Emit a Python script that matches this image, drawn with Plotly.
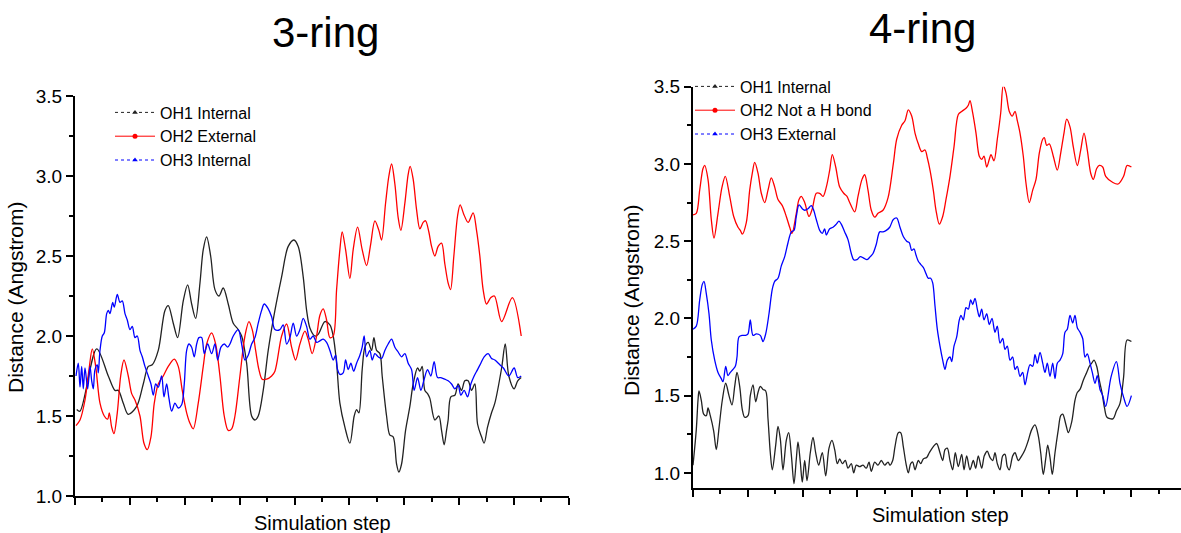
import plotly.graph_objects as go

# ---------------- data (simulation step, distance in Angstrom) ----------------
# 3-ring panel
ring3_oh1 = [(1.7,1.54),(5,1.53),(21.7,1.92),(33.3,1.75),(40,1.66),(43.3,1.66),(48.3,1.58),(53.3,1.51),(61.7,1.56),(68.3,1.70),
 (73.3,1.81),(77.3,1.82),(83.3,1.91),(90,2.16),(93.3,2.19),(98.3,2.08),(102.7,1.99),(108.3,2.22),(112.7,2.32),(116.7,2.20),
 (120.7,2.11),(125,2.33),(128.3,2.54),(131.7,2.62),(135.7,2.50),(140,2.29),(144,2.25),(148.3,2.30),(153.3,2.20),(158.3,2.08),
 (163.3,2.04),(166.7,2.00),(171.7,1.83),(176.7,1.50),(180,1.475),(183.3,1.50),(188.3,1.66),(193.3,1.91),(200,2.16),(206.7,2.37),
 (213.3,2.56),(219,2.60),(223.3,2.56),(228.3,2.37),(231.7,2.16),(235,2.05),(240,2.00),(243.3,2.01),(250,2.09),(255,2.07),
 (258.3,2.00),(261.7,1.83),(265,1.58),(270,1.43),(275,1.33),(279.3,1.50),(281.7,1.54),(284,1.52),(287.3,1.79),(290,1.93),
 (293.3,1.96),(296.7,1.91),(299,1.99),(301.7,1.91),(305,1.89),(307.3,1.75),(311.7,1.50),(315,1.38),(318.3,1.37),(321.7,1.20),
 (324,1.15),(326.7,1.20),(330.7,1.41),(335,1.56),(338.3,1.70),(342.7,1.80),(345,1.78),(347.3,1.81),(350,1.66),(352.7,1.64),
 (355,1.61),(360,1.475),(364,1.50),(366.7,1.41),(369.3,1.32),(371.7,1.41),(373.3,1.475),(376,1.62),(380,1.63),(383.3,1.70),
 (386.7,1.66),(390,1.72),(393.3,1.72),(396.7,1.66),(400,1.70),(402.7,1.45),(406.7,1.37),(409.3,1.33),(412.7,1.43),(416.7,1.52),
 (420,1.58),(426.8,1.80),(430.4,1.95),(434,1.75),(439.3,1.67),(442.9,1.72),(446.4,1.74)]

ring3_oh2 = [(1,1.44),(5,1.475),(10,1.60),(14,1.79),(17.3,1.92),(20.7,1.81),(25,1.58),(29.3,1.50),(32.7,1.48),(34.3,1.52),
 (36.7,1.43),(39,1.39),(42.3,1.52),(45.7,1.75),(49,1.85),(53.3,1.75),(56.7,1.64),(60,1.60),(65,1.50),(69,1.33),
 (72.3,1.29),(76,1.37),(79.3,1.58),(83.3,1.70),(88.3,1.75),(93.3,1.81),(99.3,1.855),(103.3,1.81),(107.3,1.66),(111.7,1.52),
 (115,1.455),(118.3,1.42),(123.3,1.58),(128.3,1.81),(131.7,1.95),(136.7,2.02),(140.7,1.95),(145,1.75),(149.3,1.50),(153.3,1.41),
 (156.7,1.42),(160,1.50),(165,1.75),(170,2.00),(174,2.09),(177.3,2.04),(180.7,1.91),(184,1.79),(187.3,1.73),(191.7,1.73),
 (196.7,1.75),(200,1.78),(206.7,2.00),(211.7,2.075),(216.7,1.93),(220.7,1.85),(225,1.95),(230,2.03),(233.3,1.98),(237.3,1.89),
 (241.7,2.00),(245,2.13),(248.3,2.17),(251.7,2.10),(255,1.99),(258.3,2.00),(261.7,2.29),(265,2.54),(267.3,2.65),(270.7,2.54),
 (275,2.36),(278.3,2.54),(282.7,2.68),(287.3,2.54),(291.7,2.44),(295.7,2.57),(300,2.72),(304,2.66),(306.7,2.60),(310.7,2.83),
 (314,3.00),(316.7,3.075),(320,2.95),(323.3,2.74),(326,2.66),(330,2.83),(333.3,3.01),(335.3,3.06),(338.3,2.98),(341.7,2.79),
 (345,2.67),(348.3,2.71),(350.7,2.72),(354,2.65),(356.7,2.56),(360,2.50),(363.3,2.56),(366.7,2.58),(370,2.45),(373.3,2.33),
 (375.7,2.29),(379,2.50),(382.7,2.75),(385.3,2.82),(389,2.76),(393.3,2.71),(398.3,2.77),(401.7,2.66),(405,2.50),(408.3,2.29),
 (411.7,2.20),(416,2.24),(419.6,2.25),(426.8,2.09),(437.5,2.24),(446.4,2.00)]

ring3_oh3 = [(1,1.75),(3.3,1.83),(5,1.68),(6.7,1.81),(8.3,1.67),(10,1.80),(12.7,1.67),(15,1.81),(16.7,1.72),(18.3,1.67),
 (20,1.79),(22.3,1.82),(23.3,1.77),(25,1.91),(27.3,2.00),(29.3,2.02),(31.7,2.14),(33.3,2.16),(35,2.14),(37.7,2.21),
 (39.3,2.18),(42.3,2.26),(45,2.21),(47.3,2.22),(50,2.14),(52.3,2.10),(55,2.04),(57.3,2.06),(60,1.99),(62.3,2.00),
 (65,1.91),(67.3,1.87),(70,1.81),(73.3,1.75),(76,1.70),(78.3,1.63),(80.7,1.70),(83.3,1.68),(86.7,1.75),(89,1.62),
 (91.7,1.70),(94,1.61),(96.7,1.53),(100,1.58),(103.3,1.55),(106.7,1.57),(109.3,1.70),(111.7,1.91),(114,1.95),(116.7,1.93),
 (119.3,1.87),(121.7,1.95),(124,1.99),(126.7,1.99),(129.3,1.89),(132.7,1.95),(136.7,1.89),(140,1.95),(142.7,1.85),(146,1.93),
 (149.3,1.95),(152.7,1.93),(155,1.95),(158.3,2.00),(163.3,2.04),(166.7,1.95),(170,1.85),(173.3,1.88),(176.7,1.95),(180,1.99),
 (183.3,2.08),(186.7,2.16),(189.3,2.20),(193.3,2.17),(196.7,2.12),(200,2.04),(205,2.04),(208.3,2.07),(211.7,1.95),(215,1.99),
 (218.3,2.08),(221.7,2.00),(225,2.04),(228.3,2.11),(231.7,2.06),(235,1.98),(238.3,2.00),(241.7,1.96),(245,1.97),(248.3,1.98),
 (251.7,1.96),(255,1.91),(258.3,1.85),(260.7,1.88),(262.7,1.79),(265,1.76),(268.3,1.77),(270.7,1.85),(273.3,1.79),(276,1.83),
 (278.7,1.78),(281.7,1.83),(285,1.88),(287.3,1.93),(289.3,2.00),(291.7,1.87),(295,1.91),(297.3,1.85),(300,1.89),(303.3,1.87),
 (306.7,1.86),(310,1.91),(313.3,1.95),(316.7,1.98),(320,1.93),(323.3,1.90),(326.7,1.87),(330,1.89),(333.3,1.83),(336.7,1.79),
 (339.3,1.66),(342.7,1.74),(346,1.66),(349.3,1.73),(352.7,1.79),(356,1.75),(359.3,1.84),(362.7,1.74),(366,1.74),(370,1.73),
 (373.3,1.72),(376.7,1.70),(380,1.67),(383.3,1.69),(386,1.63),(389.3,1.66),(392.7,1.62),(396,1.70),(399.3,1.75),(402.7,1.79),
 (406,1.83),(409.3,1.87),(413.3,1.89),(416.7,1.86),(420,1.85),(425,1.82),(428.6,1.80),(434,1.75),(439.3,1.80),(442.9,1.74),
 (446.4,1.75)]

# 4-ring panel
ring4_oh1 = [(0,1.05),(3.3,1.28),(5,1.47),(6,1.53),(8.3,1.47),(10.7,1.38),(13.3,1.37),(15,1.42),(17.3,1.37),(20.7,1.27),
 (23.3,1.15),(26,1.29),(29.3,1.47),(32.7,1.58),(36,1.50),(39,1.44),(41.7,1.56),(44,1.65),(46.7,1.56),(49.3,1.41),
 (51.7,1.36),(55,1.37),(57.3,1.50),(60,1.57),(62.7,1.46),(65,1.52),(67.3,1.56),(70,1.54),(72.7,1.53),(75,1.35),
 (77.3,1.13),(79.3,1.02),(82.7,1.18),(85,1.30),(87.3,1.22),(90,1.02),(93.3,1.21),(95.7,1.26),(98.3,1.12),(101,0.93),
 (103.3,1.09),(105,1.20),(107.3,1.07),(109.3,0.94),(111.7,1.08),(114,0.95),(117.3,1.13),(120,1.23),(122.7,1.13),(125.7,1.05),
 (129.3,1.13),(132.7,0.98),(136,1.16),(139,1.21),(141.7,1.15),(144.3,1.06),(146.7,1.09),(149.3,1.06),(152.3,1.08),(155,1.03),
 (158.3,1.06),(160.7,1.00),(163.3,1.05),(166.7,1.04),(170,1.05),(173.3,1.03),(176,1.07),(178.3,1.01),(181.7,1.07),(185,1.05),
 (188.3,1.08),(191.7,1.05),(195,1.07),(197,1.05),(199.7,1.08),(202,1.17),(205.3,1.26),(207.7,1.26),(210.3,1.17),(213,1.06),
 (215.3,1.00),(217.7,1.06),(219.7,1.07),(222,1.02),(225.3,1.08),(227.7,1.06),(230.3,1.09),(233.7,1.10),(236.3,1.13),(240.3,1.17),
 (243.7,1.19),(247,1.13),(249.7,1.08),(252,1.15),(254.3,1.16),(257,1.08),(259.7,1.02),(262.3,1.13),(265.3,1.04),(268.7,1.12),
 (271,1.02),(273.7,1.11),(277,1.02),(280.3,1.08),(282.7,1.03),(285.3,1.11),(288.7,1.03),(291.3,1.11),(294.3,1.14),(297,1.10),
 (299.7,1.08),(302,1.13),(304.3,1.06),(307,1.02),(309.7,1.11),(312,1.12),(314.3,1.04),(316.3,1.02),(319.7,1.11),(322,1.13),
 (325.3,1.08),(328.7,1.11),(332,1.15),(335.3,1.21),(338.7,1.28),(342,1.31),(345.3,1.24),(347.7,1.13),(350.3,0.99),(352.7,1.09),
 (354.7,1.18),(357,1.10),(359.3,0.99),(362,1.13),(365.3,1.28),(367.7,1.37),(369.7,1.38),(373,1.31),(375.3,1.26),(378.7,1.33),
 (382,1.47),(384.3,1.52),(387,1.54),(390.3,1.60),(393.7,1.65),(396.3,1.69),(398.7,1.71),(401,1.73),(403.7,1.69),(406.3,1.60),
 (409,1.52),(411.5,1.42),(414,1.36),(419.9,1.35),(423.4,1.40),(427,1.45),(430.6,1.62),(434.1,1.86),(438.4,1.85)]

ring4_oh2 = [(0,2.67),(3.3,2.68),(6.7,2.83),(10,2.97),(11.7,2.99),(15,2.90),(18.3,2.64),(21,2.52),(25,2.68),(29,2.85),
 (32.3,2.92),(36.7,2.79),(40.7,2.66),(45,2.59),(47.3,2.57),(49.3,2.545),(53.3,2.62),(56.7,2.83),(59.3,2.94),(61.7,3.01),
 (65,2.94),(68.3,2.81),(71.7,2.75),(75,2.83),(78.3,2.91),(81.7,2.85),(85,2.77),(89.3,2.73),(93.3,2.66),(96.7,2.59),
 (99,2.55),(103.3,2.68),(106,2.77),(108.3,2.79),(111.7,2.75),(116,2.66),(119.3,2.71),(123.3,2.81),(126.7,2.81),(130,2.79),
 (133.3,2.85),(136.7,2.96),(139.3,3.06),(142.7,2.98),(146.7,2.85),(150.7,2.81),(154,2.79),(156.7,2.75),(161.7,2.69),(165,2.79),
 (169,2.90),(171.7,2.93),(175,2.83),(178.3,2.70),(181.7,2.655),(185,2.68),(190,2.70),(195,2.78),(200.3,3.00),(203.7,3.16),
 (208.7,3.25),(212,3.28),(215.3,3.35),(218.7,3.31),(222,3.20),(225.3,3.13),(228.7,3.08),(232,3.09),(234.3,3.04),(237,2.96),
 (240.3,2.83),(243,2.70),(246.3,2.61),(249.7,2.66),(253,2.77),(257,2.92),(261,3.11),(265.3,3.32),(268.7,3.34),(273,3.36),
 (275.3,3.38),(277,3.41),(279.7,3.33),(283,3.20),(286.3,3.05),(288.7,3.03),(291,3.05),(293.7,2.98),(296.3,3.03),(298,3.06),
 (301,3.02),(304.3,3.16),(307.7,3.33),(310.3,3.51),(313,3.46),(316.3,3.34),(319.3,3.31),(322,3.34),(324.3,3.28),(327,3.20),
 (330.3,3.05),(333,2.875),(336.3,2.75),(339.7,2.83),(343,2.90),(346.3,3.07),(349.7,3.16),(351.3,3.17),(353.7,3.12),(356.3,3.13),
 (360.3,3.05),(364.3,2.96),(367.7,3.07),(371,3.20),(373.7,3.29),(377,3.24),(380.3,3.11),(384.3,2.99),(387.7,3.09),(391,3.20),
 (394.3,3.09),(397.7,2.94),(400.3,2.90),(403.7,2.97),(406.3,2.99),(409.7,2.98),(412.7,2.92),(419.9,2.88),(425.2,2.87),(430.6,2.92),
 (434.1,2.99),(438.4,2.98)]

ring4_oh3 = [(0,1.93),(3.3,1.95),(6.7,2.12),(9.3,2.22),(11,2.24),(13.3,2.16),(16,2.03),(18.3,1.86),(21.7,1.73),(25,1.65),
 (28.3,1.61),(30,1.59),(32.7,1.69),(35,1.63),(37.3,1.65),(40,1.67),(42.3,1.69),(44,1.75),(46,1.88),(49.3,1.89),
 (52.7,1.89),(55,1.90),(57.3,1.99),(60,1.89),(63.3,1.90),(67.3,1.89),(70,1.85),(72.7,1.90),(76,2.03),(79.3,2.19),
 (81.7,2.24),(85,2.26),(88.3,2.34),(91.7,2.40),(95,2.49),(98.3,2.56),(101,2.57),(103.3,2.66),(106,2.735),(109.3,2.71),
 (111.7,2.70),(115,2.71),(118.3,2.73),(120.7,2.70),(123.3,2.64),(126.7,2.57),(129.3,2.55),(131.7,2.58),(133.3,2.54),(136.7,2.58),
 (140,2.59),(143.3,2.61),(146,2.63),(148.3,2.61),(151.7,2.56),(155,2.51),(158.3,2.42),(160.7,2.38),(164,2.38),(167.3,2.40),
 (170.7,2.39),(174,2.38),(177.3,2.40),(180,2.42),(183.3,2.48),(186.7,2.56),(190,2.56),(193.3,2.57),(196.7,2.59),(200.3,2.64),
 (203.7,2.65),(207,2.59),(210.3,2.53),(213.7,2.50),(216.3,2.49),(218.7,2.44),(221,2.45),(223,2.41),(225.3,2.37),(227.7,2.35),
 (230.3,2.33),(233,2.29),(235.3,2.26),(237.7,2.26),(239.7,2.23),(242,2.08),(244.3,1.93),(247,1.82),(249.7,1.73),(252,1.67),
 (254.3,1.73),(257,1.75),(258.7,1.72),(261,1.82),(263.7,1.88),(266.3,1.99),(268,2.02),(270.3,1.99),(273,2.07),(275.3,2.06),
 (277.7,2.12),(279.7,2.09),(282,2.13),(284.3,2.06),(286.3,2.01),(288.7,2.06),(291,1.99),(293.7,2.03),(296.3,1.96),(299,2.00),
 (302,1.91),(304.3,1.95),(307,1.84),(309.7,1.87),(312,1.80),(314.3,1.82),(317,1.73),(319.7,1.75),(322,1.67),(324.3,1.69),
 (327,1.625),(329.7,1.65),(332,1.57),(334.7,1.65),(337,1.70),(339.7,1.69),(342,1.765),(344.3,1.71),(347,1.78),(349.7,1.71),
 (352,1.65),(354.3,1.71),(357,1.625),(359.7,1.71),(362,1.61),(364.3,1.71),(367,1.73),(369.7,1.77),(372,1.91),(374.3,1.93),
 (377,2.02),(379.7,1.97),(382,2.02),(384.3,1.94),(387,1.91),(389.7,1.87),(392,1.75),(394.3,1.77),(397,1.71),(399.3,1.65),
 (402,1.58),(404.3,1.63),(407,1.54),(409.7,1.50),(412.7,1.43),(418,1.62),(423.4,1.72),(427,1.58),(430.6,1.49),(434.1,1.43),
 (438.4,1.50)]

titles = ["3-ring", "4-ring"]
names_3ring = ["OH1 Internal", "OH2 External", "OH3 Internal"]
names_4ring = ["OH1 Internal", "OH2 Not a H bond", "OH3 External"]
y_ticks = [1.0, 1.5, 2.0, 2.5, 3.0, 3.5]
x_title = "Simulation step"
y_title = "Distance (Angstrom)"

# ---------------- styling ----------------
W, H = 1181, 533
FONT = "Arial, 'Liberation Sans', Helvetica, sans-serif"
colors = ["#222222", "#ff0000", "#0000ff"]
leg_dash = ["dot", "solid", "dot"]
leg_sym = ["triangle-up", "circle", "triangle-up"]

fig = go.Figure()

panels = [
    ("x", "y", "legend", [ring3_oh1, ring3_oh2, ring3_oh3], names_3ring),
    ("x2", "y2", "legend2", [ring4_oh1, ring4_oh2, ring4_oh3], names_4ring),
]

for xa, ya, leg, series, names in panels:
    for i, (pairs, name) in enumerate(zip(series, names)):
        xs = [p[0] for p in pairs]
        ys = [p[1] for p in pairs]
        fig.add_trace(go.Scatter(
            x=xs, y=ys, mode="lines", xaxis=xa, yaxis=ya, showlegend=False,
            line=dict(color=colors[i], width=1.3, shape="spline", smoothing=0.9),
            hoverinfo="skip"))
    for i, name in enumerate(names):
        fig.add_trace(go.Scatter(
            x=[None], y=[None], mode="lines+markers", name=name, xaxis=xa, yaxis=ya,
            legend=leg, showlegend=True,
            line=dict(color=colors[i], width=1, dash=leg_dash[i]),
            marker=dict(symbol=leg_sym[i], size=5, color=colors[i])))

axis_common = dict(showline=True, linewidth=2, linecolor="black", showgrid=False, zeroline=False,
                   ticks="outside", ticklen=7, tickwidth=1.5, tickcolor="black", automargin=False)

fig.update_layout(
    width=W, height=H,
    margin=dict(l=0, r=0, t=0, b=0, pad=0, autoexpand=False),
    paper_bgcolor="white", plot_bgcolor="white",
    font=dict(family=FONT, color="black"),
    xaxis=dict(domain=[75/W, 569/W], range=[0, 494.2], anchor="y", tick0=0, dtick=54.9,
               showticklabels=False,
               minor=dict(dtick=27.45, ticks="outside", ticklen=4, tickwidth=1.5, tickcolor="black", showgrid=False),
               **axis_common),
    yaxis=dict(domain=[(H-496)/H, (H-96)/H], range=[1.0, 3.5], anchor="x", tickvals=y_ticks,
               tickformat=".1f", tickfont=dict(size=19),
               minor=dict(dtick=0.25, tick0=1.0, ticks="outside", ticklen=4, tickwidth=1.5, tickcolor="black", showgrid=False),
               **axis_common),
    xaxis2=dict(domain=[693/W, 1.0], range=[0, 488], anchor="y2", tick0=0, dtick=54.8,
                showticklabels=False,
                minor=dict(dtick=27.4, ticks="outside", ticklen=4, tickwidth=1.5, tickcolor="black", showgrid=False),
                **axis_common),
    yaxis2=dict(domain=[(H-488.3)/H, (H-86.7)/H], range=[0.9, 3.5], anchor="x2", tickvals=y_ticks,
                tickformat=".1f", tickfont=dict(size=19),
                minor=dict(dtick=0.25, tick0=1.0, ticks="outside", ticklen=4, tickwidth=1.5, tickcolor="black", showgrid=False),
                **axis_common),
    legend=dict(x=110/W, y=(H-95.5)/H, xanchor="left", yanchor="top", bgcolor="rgba(0,0,0,0)",
                font=dict(size=16), itemwidth=40, tracegroupgap=0),
    legend2=dict(x=690/W, y=(H-69.5)/H, xanchor="left", yanchor="top", bgcolor="rgba(0,0,0,0)",
                 font=dict(size=16), itemwidth=40, tracegroupgap=0),
)

ann = []
ann.append(dict(text=titles[0], x=325/W, y=(H-33)/H, font=dict(size=42)))
ann.append(dict(text=titles[1], x=922/W, y=(H-29)/H, font=dict(size=42)))
ann.append(dict(text=x_title, x=322/W, y=(H-523)/H, font=dict(size=20)))
ann.append(dict(text=x_title, x=940/W, y=(H-515)/H, font=dict(size=20)))
ann.append(dict(text=y_title, x=15/W, y=(H-298)/H, font=dict(size=21), textangle=-90))
ann.append(dict(text=y_title, x=632/W, y=(H-301)/H, font=dict(size=21), textangle=-90))
for a in ann:
    fig.add_annotation(xref="paper", yref="paper", showarrow=False, xanchor="center", yanchor="middle", **a)

fig.write_html("out.html")
